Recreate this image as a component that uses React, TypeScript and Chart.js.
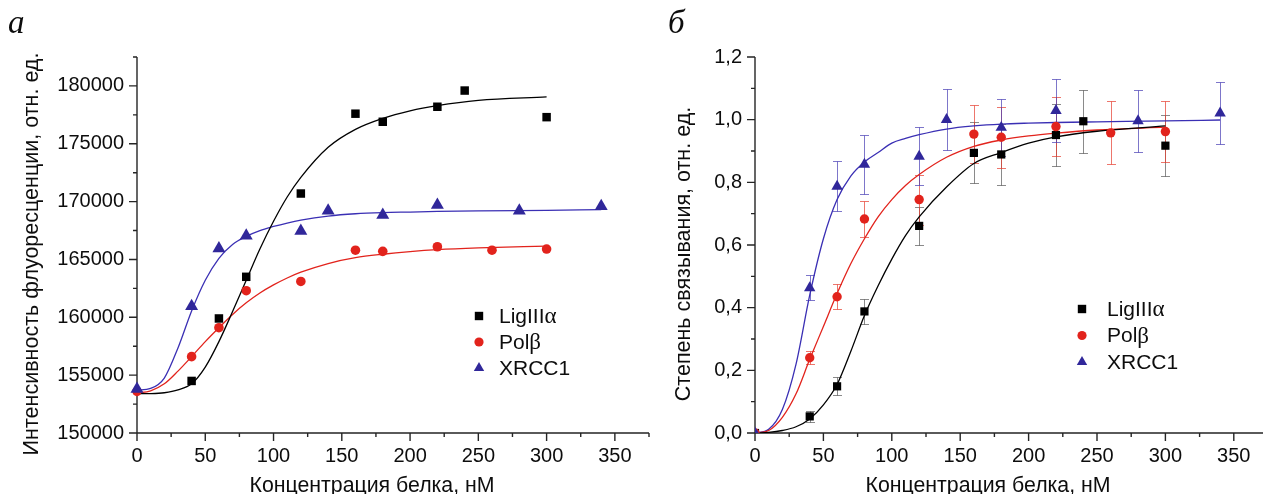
import React, { useEffect, useRef } from 'react';
import { Chart, registerables } from 'chart.js';

Chart.register(...registerables);

// ---------- shared text ----------
const seriesNames = ['LigIIIα', 'Polβ', 'XRCC1'];
const xAxisTitle = 'Концентрация белка, нМ';
const xTickLabels = ['0', '50', '100', '150', '200', '250', '300', '350'];

// ---------- panel а : fluorescence intensity ----------
const aLetter = 'а';
const aYTitle = 'Интенсивность флуоресценции, отн. ед.';
const aYTickLabels = ['150000', '155000', '160000', '165000', '170000', '175000', '180000'];

const aLigX = [40, 60, 80, 120, 160, 180, 220, 240, 300];
const aLigY = [154500, 159900, 163500, 170700, 177600, 176900, 178200, 179600, 177300];
const aPolX = [0, 40, 60, 80, 120, 160, 180, 220, 260, 300];
const aPolY = [153600, 156600, 159100, 162300, 163100, 165800, 165700, 166100, 165800, 165900];
const aXrX = [0, 40, 60, 80, 120, 140, 180, 220, 280, 340];
const aXrY = [153800, 160950, 165950, 167050, 167450, 169200, 168850, 169700, 169200, 169600];

const aFitX = [0, 10, 20, 30, 40, 50, 60, 70, 80, 90, 100, 110, 120, 140, 160, 180, 200, 220, 250, 300, 340];
const aLigFit = [153400, 153410, 153480, 153720, 154250, 155700, 157900, 160500, 163200, 165900, 168300, 170400, 172100, 174700, 176250, 177200, 177850, 178300, 178750, 179050, null];
const aPolFit = [153450, 153650, 154250, 155350, 156600, 157900, 159100, 160250, 161250, 162100, 162800, 163400, 163900, 164650, 165150, 165450, 165680, 165850, 166000, 166150, null];
const aXrFit = [153700, 153850, 154750, 157350, 160550, 163200, 165100, 166300, 167000, 167500, 167850, 168150, 168400, 168750, 168950, 169050, 169100, 169150, 169200, 169250, 169300];

// ---------- panel б : binding degree ----------
const bLetter = 'б';
const bYTitle = 'Степень связывания, отн. ед.';
const bYTickLabels = ['0,0', '0,2', '0,4', '0,6', '0,8', '1,0', '1,2'];

const bLigX = [0, 40, 60, 80, 120, 160, 180, 220, 240, 300];
const bLigY = [0, 0.053, 0.149, 0.388, 0.661, 0.894, 0.889, 0.951, 0.995, 0.917];
const bLigErr = [0, 0.018, 0.029, 0.041, 0.06, 0.097, 0.096, 0.099, 0.1, 0.097];
const bPolX = [0, 40, 60, 80, 120, 160, 180, 220, 260, 300];
const bPolY = [0, 0.24, 0.435, 0.683, 0.745, 0.954, 0.944, 0.978, 0.958, 0.962];
const bPolErr = [0, 0.021, 0.039, 0.059, 0.08, 0.092, 0.098, 0.094, 0.1, 0.098];
const bXrX = [0, 40, 60, 80, 120, 140, 180, 220, 280, 340];
const bXrY = [0, 0.463, 0.787, 0.857, 0.883, 1.0, 0.975, 1.029, 0.996, 1.021];
const bXrErr = [0, 0.04, 0.08, 0.093, 0.093, 0.098, 0.09, 0.1, 0.1, 0.1];

const bFitX = [0, 10, 20, 30, 40, 50, 60, 70, 80, 90, 100, 110, 120, 140, 160, 180, 200, 220, 250, 300, 340];
const bLigFit = [0, 0.002, 0.008, 0.02, 0.045, 0.09, 0.155, 0.26, 0.375, 0.47, 0.555, 0.63, 0.69, 0.785, 0.86, 0.895, 0.925, 0.945, 0.963, 0.98, null];
const bPolFit = [0, 0.008, 0.05, 0.125, 0.235, 0.34, 0.445, 0.54, 0.62, 0.69, 0.745, 0.79, 0.825, 0.88, 0.915, 0.935, 0.948, 0.957, 0.967, 0.976, null];
const bXrFit = [0, 0.012, 0.075, 0.22, 0.44, 0.62, 0.745, 0.82, 0.865, 0.895, 0.925, 0.94, 0.952, 0.97, 0.98, 0.986, 0.989, 0.991, 0.993, 0.996, 0.999];

// ---------- styling ----------
const BLACK = '#000000';
const RED = '#e2231c';
const BLUE = '#30279a';
const BLUE_LINE = '#3a2fb4';
const TEXT = '#0d0d0d';
const SANS = '"Liberation Sans", Arial, sans-serif';
const SERIF = '"Liberation Serif", "Times New Roman", serif';
const styles = ['rect', 'circle', 'triangle'];
const markerColors = [BLACK, RED, BLUE];
const lineColors = [BLACK, RED, BLUE_LINE];

Chart.defaults.font.family = SANS;

const pts = (xs: number[], ys: (number | null)[]) =>
  xs.map((x, i) => ({ x, y: ys[i] })).filter((p) => p.y !== null) as { x: number; y: number }[];

function drawMarker(ctx: CanvasRenderingContext2D, style: string, x: number, y: number, r: number, color: string) {
  ctx.fillStyle = color;
  ctx.beginPath();
  if (style === 'rect') {
    ctx.rect(x - r, y - r, 2 * r, 2 * r);
  } else if (style === 'circle') {
    ctx.arc(x, y, r, 0, Math.PI * 2);
  } else {
    ctx.moveTo(x, y - r);
    ctx.lineTo(x + r * 0.866, y + r * 0.5);
    ctx.lineTo(x - r * 0.866, y + r * 0.5);
    ctx.closePath();
  }
  ctx.fill();
}

function drawMixed(ctx: CanvasRenderingContext2D, text: string, x: number, y: number, size: number) {
  const runs = text.match(/[α-ω]+|[^α-ω]+/g) || [];
  let cx = x;
  runs.forEach((run) => {
    const greek = /[α-ω]/.test(run);
    ctx.font = greek ? `${size + 2}px ${SERIF}` : `${size}px ${SANS}`;
    ctx.fillText(run, cx, y);
    cx += ctx.measureText(run).width;
  });
}

const decor = {
  id: 'decor',
  beforeDatasetsDraw(chart: any, _args: any, o: any) {
    const { ctx, chartArea: a, scales } = chart;
    const xs = scales.x;
    const ys = scales.y;
    ctx.save();
    (o.errors || []).forEach((s: any) => {
      ctx.strokeStyle = s.color;
      ctx.lineWidth = 1;
      s.xs.forEach((xv: number, i: number) => {
        const e = s.es[i];
        if (!e) return;
        const px = Math.round(xs.getPixelForValue(xv)) + 0.5;
        const top = Math.round(ys.getPixelForValue(s.ys[i] + e)) + 0.5;
        const bot = Math.round(ys.getPixelForValue(s.ys[i] - e)) + 0.5;
        ctx.beginPath();
        ctx.moveTo(px, top);
        ctx.lineTo(px, bot);
        ctx.moveTo(px - 4.5, top);
        ctx.lineTo(px + 4.5, top);
        ctx.moveTo(px - 4.5, bot);
        ctx.lineTo(px + 4.5, bot);
        ctx.stroke();
      });
    });
    ctx.strokeStyle = '#252525';
    ctx.lineWidth = 1.4;
    ctx.beginPath();
    ctx.moveTo(a.left, a.top);
    ctx.lineTo(a.left, a.bottom);
    ctx.lineTo(a.right, a.bottom);
    xs.ticks.forEach((t: any) => {
      const p = xs.getPixelForValue(t.value);
      ctx.moveTo(p, a.bottom);
      ctx.lineTo(p, a.bottom + (t.label ? 8 : 4));
    });
    ys.ticks.forEach((t: any) => {
      const p = ys.getPixelForValue(t.value);
      ctx.moveTo(a.left, p);
      ctx.lineTo(a.left - (t.label ? 8 : 4), p);
    });
    ctx.stroke();
    ctx.restore();
  },
  afterDraw(chart: any, _args: any, o: any) {
    const { ctx } = chart;
    ctx.save();
    ctx.fillStyle = TEXT;
    // panel letter
    ctx.font = `italic 33px ${SERIF}`;
    ctx.textAlign = 'left';
    ctx.textBaseline = 'alphabetic';
    ctx.fillText(o.letter.text, o.letter.x, o.letter.y);
    // x title
    ctx.font = `21.3px ${SANS}`;
    ctx.textAlign = 'center';
    ctx.fillText(o.xTitle.text, o.xTitle.x, o.xTitle.y);
    // y title
    ctx.save();
    ctx.font = `21.5px ${SANS}`;
    ctx.translate(o.yTitle.x, o.yTitle.y);
    ctx.rotate(-Math.PI / 2);
    ctx.fillText(o.yTitle.text, 0, 0);
    ctx.restore();
    // legend
    const L = o.legend;
    ctx.textAlign = 'left';
    ctx.textBaseline = 'middle';
    seriesNames.forEach((name, i) => {
      const y = L.y + i * L.gap;
      drawMarker(ctx, styles[i], L.mx, y, L.sizes[i], markerColors[i]);
      ctx.fillStyle = TEXT;
      drawMixed(ctx, name, L.tx, y + 1, 21);
    });
    ctx.restore();
  },
};

function buildConfig(p: any) {
  const pointSets = [
    { xs: p.ligX, ys: p.ligY },
    { xs: p.polX, ys: p.polY },
    { xs: p.xrX, ys: p.xrY },
  ];
  const fits = [p.ligFit, p.polFit, p.xrFit];
  const datasets: any[] = [];
  pointSets.forEach((s, i) => {
    datasets.push({
      label: seriesNames[i],
      data: pts(s.xs, s.ys),
      showLine: false,
      pointStyle: styles[i],
      pointRadius: p.radii[i],
      pointBorderWidth: 0,
      pointBackgroundColor: markerColors[i],
      pointBorderColor: markerColors[i],
      order: 2 - i,
      clip: p.clip,
    });
  });
  fits.forEach((f: any, i: number) => {
    datasets.push({
      label: seriesNames[i] + ' fit',
      data: pts(p.fitX, f),
      showLine: true,
      pointRadius: 0,
      borderColor: lineColors[i],
      borderWidth: 1.3,
      cubicInterpolationMode: 'monotone',
      order: 10 + i,
    });
  });
  return {
    type: 'scatter',
    data: { datasets },
    plugins: [decor],
    options: {
      animation: false,
      responsive: false,
      events: [],
      layout: { padding: { left: 0, top: 57, right: p.padRight, bottom: 0 } },
      scales: {
        x: {
          type: 'linear',
          min: 0,
          max: 375,
          grid: { display: false, drawTicks: false },
          border: { display: false },
          afterFit: (s: any) => {
            s.height = 61;
          },
          ticks: {
            stepSize: 25,
            autoSkip: false,
            maxRotation: 0,
            padding: 11,
            color: TEXT,
            font: { size: 20, family: SANS },
            callback: (v: any) => (xTickLabels.includes(String(v)) ? String(v) : ''),
          },
        },
        y: {
          type: 'linear',
          min: p.yMin,
          max: p.yMax,
          grid: { display: false, drawTicks: false },
          border: { display: false },
          afterFit: (s: any) => {
            s.width = p.yWidth;
          },
          ticks: {
            stepSize: p.yStep,
            autoSkip: false,
            padding: 13,
            color: TEXT,
            font: { size: 20, family: SANS },
            callback: p.yLabel,
          },
        },
      },
      plugins: {
        legend: { display: false },
        tooltip: { enabled: false },
        decor: {
          errors: p.errors,
          letter: p.letter,
          xTitle: p.xTitle,
          yTitle: p.yTitle,
          legend: p.legend,
        },
      },
    },
  };
}

export default function App() {
  const leftRef = useRef<HTMLCanvasElement>(null);
  const rightRef = useRef<HTMLCanvasElement>(null);

  useEffect(() => {
    const left = new Chart(
      leftRef.current as HTMLCanvasElement,
      buildConfig({
        ligX: aLigX, ligY: aLigY, polX: aPolX, polY: aPolY, xrX: aXrX, xrY: aXrY,
        fitX: aFitX, ligFit: aLigFit, polFit: aPolFit, xrFit: aXrFit,
        radii: [6, 4.8, 7.5],
        clip: false,
        padRight: 10,
        yMin: 150000,
        yMax: 182500,
        yStep: 2500,
        yWidth: 137,
        yLabel: (v: any) => (aYTickLabels.includes(String(v)) ? String(v) : ''),
        errors: [],
        letter: { text: aLetter, x: 8, y: 33 },
        xTitle: { text: xAxisTitle, x: 372, y: 492 },
        yTitle: { text: aYTitle, x: 38, y: 254 },
        legend: { mx: 479, tx: 499, y: 316, gap: 26, sizes: [4.2, 4.6, 6] },
      }) as any
    );
    const right = new Chart(
      rightRef.current as HTMLCanvasElement,
      buildConfig({
        ligX: bLigX, ligY: bLigY, polX: bPolX, polY: bPolY, xrX: bXrX, xrY: bXrY,
        fitX: bFitX, ligFit: bLigFit, polFit: bPolFit, xrFit: bXrFit,
        radii: [5.8, 4.7, 6.6],
        clip: undefined,
        padRight: 12,
        yMin: 0,
        yMax: 1.2,
        yStep: 0.1,
        yWidth: 115,
        yLabel: (v: any) => {
          const s = Number(v).toFixed(1).replace('.', ',');
          return bYTickLabels.includes(s) ? s : '';
        },
        errors: [
          { xs: bLigX, ys: bLigY, es: bLigErr, color: 'rgba(60,60,60,0.6)' },
          { xs: bPolX, ys: bPolY, es: bPolErr, color: 'rgba(230,60,45,0.7)' },
          { xs: bXrX, ys: bXrY, es: bXrErr, color: 'rgba(70,60,180,0.7)' },
        ],
        letter: { text: bLetter, x: 28, y: 33 },
        xTitle: { text: xAxisTitle, x: 348, y: 492 },
        yTitle: { text: bYTitle, x: 50, y: 254 },
        legend: { mx: 442, tx: 467, y: 309, gap: 26.5, sizes: [4.2, 4.6, 6] },
      }) as any
    );
    return () => {
      left.destroy();
      right.destroy();
    };
  }, []);

  return (
    <div
      style={{
        position: 'fixed',
        left: 0,
        top: 0,
        width: 1263,
        height: 494,
        overflow: 'hidden',
        background: '#ffffff',
      }}
    >
      <canvas ref={leftRef} width={660} height={494} style={{ position: 'absolute', left: 0, top: 0 }} />
      <canvas ref={rightRef} width={640} height={494} style={{ position: 'absolute', left: 640, top: 0 }} />
    </div>
  );
}
